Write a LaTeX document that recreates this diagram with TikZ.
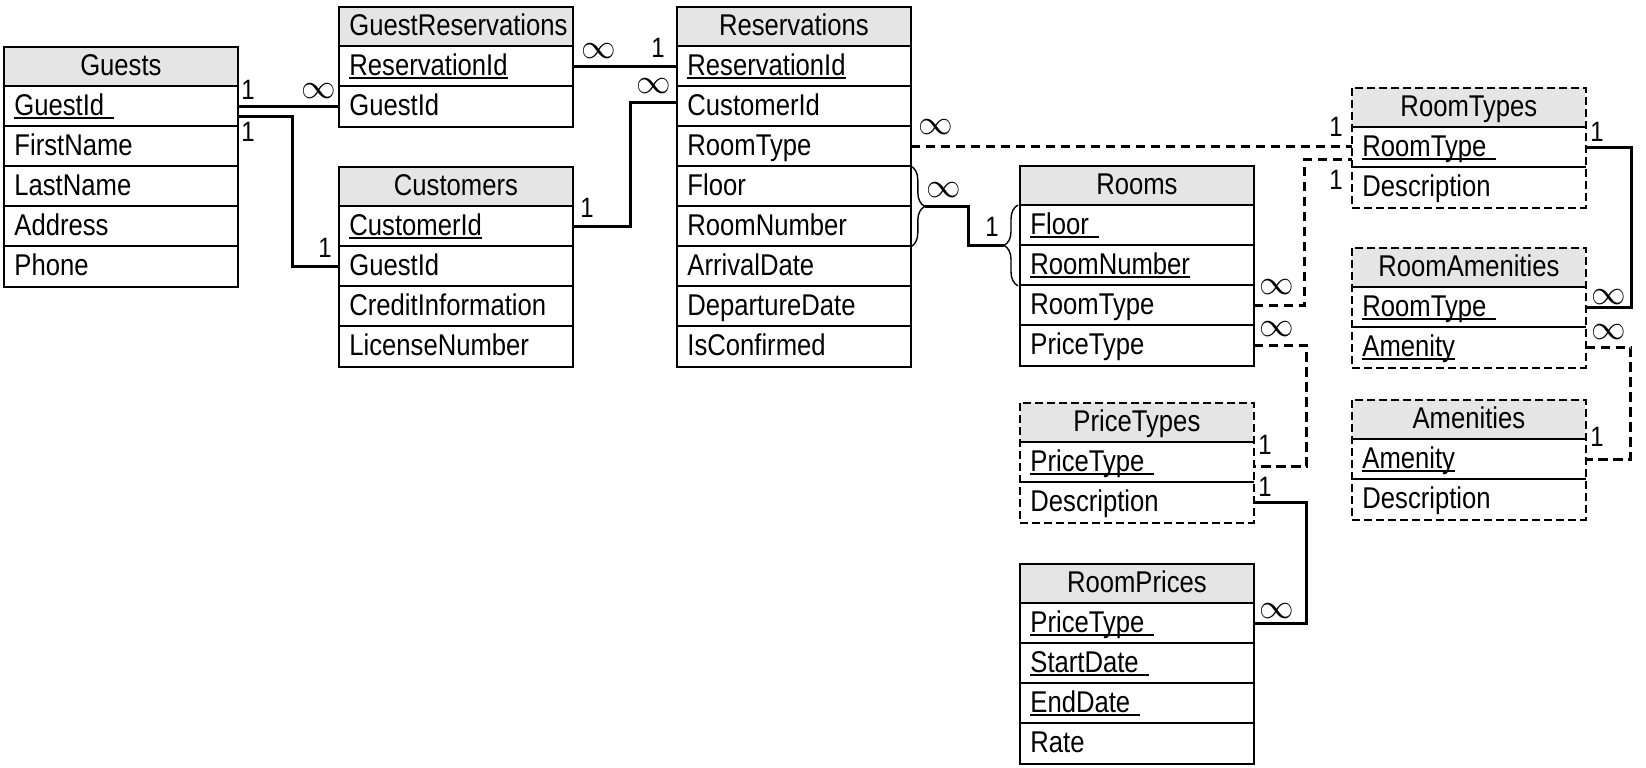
\documentclass[tikz,border=0pt]{standalone}
\usepackage{fontspec}
\setmainfont{Liberation Sans}[FakeStretch=0.855]
\usetikzlibrary{calc,decorations.pathreplacing}
\newcommand\pk[1]{\setbox0\hbox{#1}\rlap{\rule[-1.8pt]{\wd0}{0.8pt}}\box0}
\tikzset{
 tfont/.style={font=\fontsize{15}{18}\selectfont},
 hdr/.style={tfont, rectangle, fill=black!10, minimum height=19.5pt, inner xsep=5pt, inner ysep=0pt, text width=106.5pt, align=center, text height=11.5pt, text depth=2.5pt},
 fld/.style={tfont, rectangle, minimum height=20pt, inner xsep=5pt, inner ysep=0pt, text width=106.5pt, align=left, text height=11.5pt, text depth=2.5pt},
 sep/.style={line width=0.85pt},
 solidbox/.style={line width=1.1pt},
 dashbox/.style={line width=1.1pt, dash pattern=on 4pt off 2pt},
 conn/.style={line width=1.35pt},
 dconn/.style={line width=1.35pt, dash pattern=on 4.7pt off 2.8pt},
 one/.style={font=\fontsize{14}{16}\selectfont, inner sep=0pt},
 many/.style={font=\fontsize{16}{16}\selectfont, inner sep=0pt},
 brc/.style={line width=0.7pt, decorate, decoration={brace, amplitude=7pt}},
}
\newcommand\erdtable[7]{%
  \node[hdr, anchor=north west] (#1-0) at (#2,#3) {#5};
  \foreach \fl [count=\i] in {#6}{
    \node[fld, anchor=north west] (#1-\i) at (#2,{#3+39+40*(\i-1)}) {\fl};
    \draw[sep] (#1-\i.north west) -- (#1-\i.north east);
  }
  \draw[#4] (#1-0.north west) rectangle (#1-#7.south east);
}
\begin{document}
\begin{tikzpicture}[x=0.5pt,y=-0.5pt]
\fill[white] (0,0) rectangle (1646,767);
\useasboundingbox (0,0) rectangle (1646,767);

\erdtable{guests}{4}{47}{solidbox}{Guests}{\pk{GuestId\ },FirstName,LastName,Address,Phone}{5}
\erdtable{gres}{339}{7}{solidbox}{GuestReservations}{\pk{ReservationId},GuestId}{2}
\erdtable{cust}{339}{167}{solidbox}{Customers}{\pk{CustomerId},GuestId,CreditInformation,LicenseNumber}{4}
\erdtable{res}{677}{7}{solidbox}{Reservations}{\pk{ReservationId},CustomerId,RoomType,Floor,RoomNumber,ArrivalDate,DepartureDate,IsConfirmed}{8}
\erdtable{rooms}{1020}{166}{solidbox}{Rooms}{\pk{Floor\ },\pk{RoomNumber},RoomType,PriceType}{4}
\erdtable{rt}{1352}{88}{dashbox}{RoomTypes}{\pk{RoomType\ },Description}{2}
\erdtable{ra}{1352}{248}{dashbox}{RoomAmenities}{\pk{RoomType\ },\pk{Amenity}}{2}
\erdtable{am}{1352}{400}{dashbox}{Amenities}{\pk{Amenity},Description}{2}
\erdtable{pt}{1020}{403}{dashbox}{PriceTypes}{\pk{PriceType\ },Description}{2}
\erdtable{rp}{1020}{564}{solidbox}{RoomPrices}{\pk{PriceType\ },\pk{StartDate\ },\pk{EndDate\ },Rate}{4}

% Guests - GuestReservations
\draw[conn] (guests-1.east) -- (gres-2.west);
\node[one] (l1a) at (248,90) {1};
\node[many] (l1b) at (319,91) {$\infty$};
% Guests - Customers
\draw[conn] ([yshift=-5pt]guests-1.east) -- ++(55,0) |- (cust-2.west);
\node[one] (l2a) at (248,132) {1};
\node[one] (l2b) at (325,248) {1};
% GuestReservations - Reservations
\draw[conn] (gres-1.east) -- (res-1.west);
\node[many] (l3a) at (599,51) {$\infty$};
\node[one] (l3b) at (658,48) {1};
% Customers - Reservations
\draw[conn] (cust-1.east) -- ++(58,0) |- ([yshift=2pt]res-2.west);
\node[one] (l4a) at (587,208) {1};
\node[many] (l4b) at (654,86) {$\infty$};
% Reservations - RoomTypes
\draw[dconn] (res-3.east) -- (res-3.east -| rt-1.west);
\node[many] (l5a) at (936,127) {$\infty$};
\node[one] (l5b) at (1336,127) {1};
% Rooms - RoomTypes
\draw[dconn] (rooms-3.east) -- ++(51,0) |- ([yshift=-6pt]rt-1.west);
\node[many] (l6a) at (1277,287) {$\infty$};
\node[one] (l6b) at (1336,180) {1};
% Rooms - PriceTypes
\draw[dconn] (rooms-4.east) -- ++(53,0) |- ([yshift=-2pt]pt-1.east);
\node[many] (l7a) at (1277,329) {$\infty$};
\node[one] (l7b) at (1265,445) {1};
% PriceTypes - RoomPrices
\draw[conn] (pt-2.east) -- ++(53,0) |- (rp-1.east);
\node[one] (l8a) at (1265,487) {1};
\node[many] (l8b) at (1277,611) {$\infty$};
% RoomTypes - RoomAmenities
\draw[conn] (rt-1.east) -- ++(46,0) |- (ra-1.east);
\node[one] (l9a) at (1597,132) {1};
\node[many] (l9b) at (1609,297) {$\infty$};
% RoomAmenities - Amenities
\draw[dconn] (ra-2.east) -- ++(45,0) |- (am-1.east);
\node[many] (l10a) at (1609,332) {$\infty$};
\node[one] (l10b) at (1597,437) {1};
% Reservations (Floor, RoomNumber) - Rooms (Floor, RoomNumber)
\draw[brc] (res-4.north east) -- (res-5.south east);
\coordinate (rtip) at ([xshift=7pt]res-4.south east);
\draw[brc] ([xshift=-1pt]rooms-2.south west) -- ([xshift=-1pt]rooms-1.north west);
\coordinate (mtip) at ([xshift=-8pt]rooms-1.south west);
\draw[conn] (rtip) -- ++(44,0) |- (mtip);
\node[many] (l11a) at (944,190) {$\infty$};
\node[one] (l11b) at (992,227) {1};
\end{tikzpicture}
\end{document}
